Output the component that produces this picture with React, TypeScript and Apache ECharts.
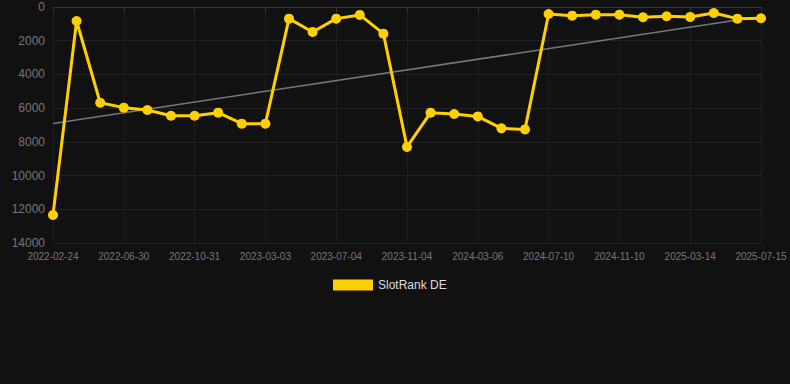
import React, { useEffect, useRef } from "react";
import * as echarts from "echarts";

const categories = [
  "2022-02-24", "2022-04-07", "2022-05-19", "2022-06-30", "2022-08-10", "2022-09-20",
  "2022-10-31", "2022-12-11", "2023-01-21", "2023-03-03", "2023-04-13", "2023-05-24",
  "2023-07-04", "2023-08-14", "2023-09-24", "2023-11-04", "2023-12-15", "2024-01-25",
  "2024-03-06", "2024-04-17", "2024-05-29", "2024-07-10", "2024-08-20", "2024-09-30",
  "2024-11-10", "2024-12-21", "2025-01-31", "2025-03-14", "2025-04-24", "2025-06-04",
  "2025-07-15",
];

const rankValues = [
  12340, 830, 5680, 5970, 6110, 6450, 6450, 6270, 6920, 6920, 690, 1480, 690, 470, 1580,
  8300, 6270, 6350, 6490, 7200, 7260, 415, 515, 455, 455, 610, 550, 590, 355, 690, 670,
];

const trendStart = 6910;
const trendEnd = 770;
const trendEndIndex = 29;

const yTicks = { min: 0, max: 14000, interval: 2000 };

export default function App() {
  const ref = useRef<HTMLDivElement>(null);
  useEffect(() => {
    document.body.style.margin = "0";
    document.body.style.background = "#111111";
    if (!ref.current) return;
    const chart = echarts.init(ref.current, null, { renderer: "svg" });
    const trendData = categories.map((_, i) =>
      i === 0 ? trendStart : i === trendEndIndex ? trendEnd : null
    );
    chart.setOption({
      animation: false,
      backgroundColor: "#111111",
      grid: { left: 53, right: 29, top: 7, bottom: 141, containLabel: false },
      legend: {
        data: ["SlotRank DE"],
        top: 274,
        left: 328,
        itemWidth: 40,
        itemHeight: 11,
        textStyle: { color: "#dddddd", fontSize: 12, fontFamily: "Arial, Liberation Sans, sans-serif" },
        icon: "rect",
      },
      xAxis: {
        type: "category",
        data: categories,
        boundaryGap: false,
        axisLine: { lineStyle: { color: "#333333" } },
        axisTick: { show: true, interval: 2, lineStyle: { color: "#333333" } },
        axisLabel: {
          interval: 2,
          color: "#777777",
          fontSize: 10,
          fontFamily: "Arial, Liberation Sans, sans-serif",
        },
        splitLine: { show: true, interval: 2, lineStyle: { color: "#1e1e1e" } },
      },
      yAxis: {
        type: "value",
        inverse: true,
        min: yTicks.min,
        max: yTicks.max,
        interval: yTicks.interval,
        axisLine: { show: false },
        axisTick: { show: false },
        axisLabel: {
          color: "#777777",
          fontSize: 12,
          fontFamily: "Arial, Liberation Sans, sans-serif",
          formatter: (v: number) => String(v),
        },
        splitLine: { show: true, lineStyle: { color: "#222222" } },
      },
      series: [
        {
          name: "SlotRank DE",
          type: "line",
          data: rankValues,
          color: "#FFD000",
          lineStyle: { width: 3, color: "#FFD000" },
          itemStyle: { color: "#FFD000" },
          symbol: "circle",
          symbolSize: 10,
          z: 3,
        },
        {
          name: "Trend",
          type: "line",
          data: trendData,
          connectNulls: true,
          symbol: "none",
          lineStyle: { width: 1.5, color: "#777777" },
          itemStyle: { color: "#777777" },
          z: 2,
        },
      ],
    });
    return () => chart.dispose();
  }, []);
  return <div ref={ref} style={{ width: 790, height: 384 }} />;
}
